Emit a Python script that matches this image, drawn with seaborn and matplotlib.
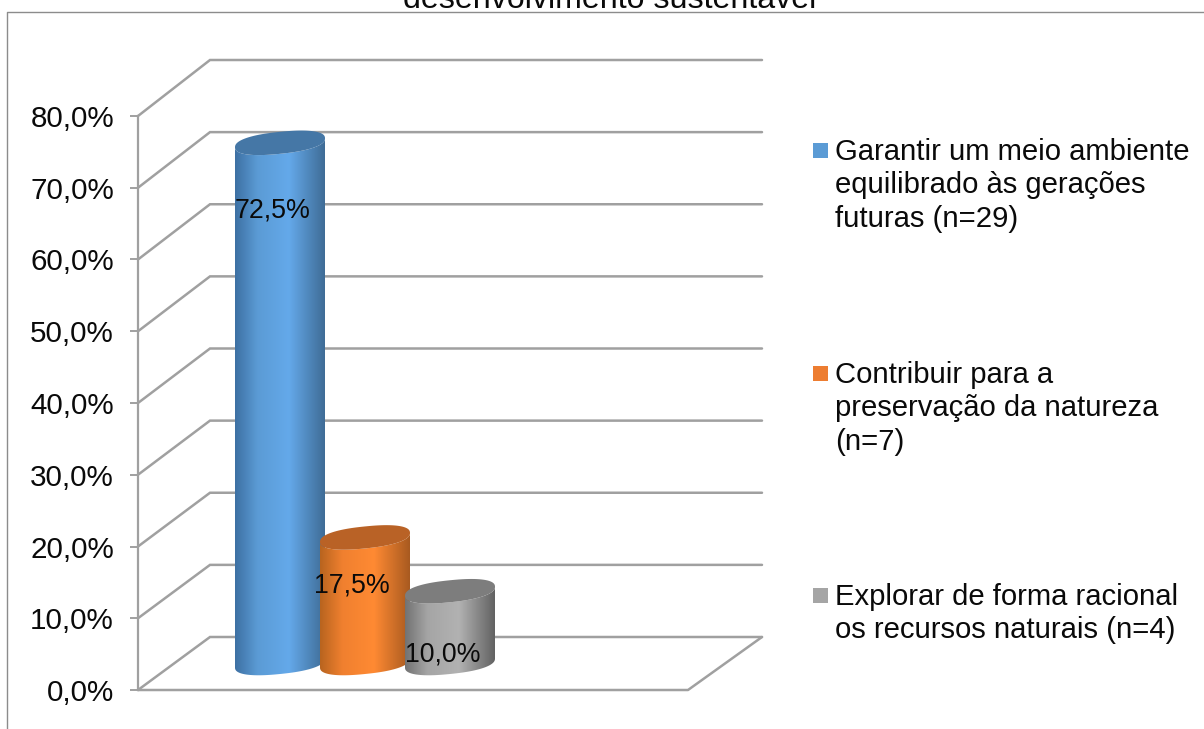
import numpy as np
import pandas as pd
import matplotlib
matplotlib.use("Agg")
import matplotlib.pyplot as plt
import seaborn as sns
from matplotlib.colors import LinearSegmentedColormap
from matplotlib.patches import Polygon, Rectangle

# dados do grafico
categorias = ["Garantir um meio ambiente\nequilibrado às gerações\nfuturas (n=29)",
              "Contribuir para a\npreservação da natureza\n(n=7)",
              "Explorar de forma racional\nos recursos naturais (n=4)"]
valores = [72.5, 17.5, 10.0]
rotulos = ["72,5%", "17,5%", "10,0%"]
y_ticks = [0, 10, 20, 30, 40, 50, 60, 70, 80]
y_labels = ["0,0%", "10,0%", "20,0%", "30,0%", "40,0%", "50,0%", "60,0%", "70,0%", "80,0%"]
titulo = "desenvolvimento sustentável"

# cores dos cilindros: borda, meio, claro, borda / tampa
gradientes = [["#3d70a3", "#5b9bd5", "#64a9ea", "#3f6c96"],
              ["#b8641f", "#f0802f", "#ff8a33", "#a85a20"],
              ["#727272", "#a5a5a5", "#b2b2b2", "#626262"]]
tampas = ["#4577a6", "#b96226", "#7d7d7d"]
legenda_cores = ["#5b9bd5", "#ed7d31", "#a5a5a5"]
cinza = "#a0a0a0"

W, H = 1204, 729
sns.set_theme(style="white")
plt.rcParams["font.family"] = ["Liberation Sans", "DejaVu Sans"]

fig = plt.figure(figsize=(W / 100, H / 100), dpi=100)
fig.patch.set_facecolor("white")

# fundo em pixels: moldura, paredes
back = fig.add_axes([0, 0, 1, 1], zorder=0)
back.set_xlim(0, W)
back.set_ylim(H, 0)
back.axis("off")

# eixo principal (plano da frente do grafico 3D)
ax = fig.add_axes([138 / W, 1 - 690 / H, 550 / W, 574 / H], zorder=1)
ax.patch.set_alpha(0)
df = pd.DataFrame({"cat": categorias, "val": valores})
sns.barplot(data=df, x="cat", y="val", hue="cat", palette=legenda_cores,
            width=90 / 85, legend=False, saturation=1, ax=ax)
ax.set_xlim(-106 / 85, 444 / 85)
ax.set_ylim(0, 80)
ax.set_xlabel("")
ax.set_ylabel("")
ax.set_xticks([])
ax.set_yticks(y_ticks)
ax.set_yticklabels(y_labels, fontsize=21.3, color="#0a0a0a")
ax.tick_params(axis="y", left=True, length=5.8, width=1.4, color=cinza, pad=11.5)
sns.despine(ax=ax, top=True, right=True, bottom=True)
ax.spines["left"].set_color(cinza)
ax.spines["left"].set_linewidth(1.6)

# frente em pixels: cilindros e textos
front = fig.add_axes([0, 0, 1, 1], zorder=2)
front.patch.set_alpha(0)
front.axis("off")

# profundidade do 3D em pixels
prof_x = 72
meio_x, meio_y = 36, -27


def to_px(x, y):
    dx, dy = ax.transData.transform((x, y))
    return dx, H - dy


back.plot([7, 7, W], [H, 12, 12], color="#8c8c8c", lw=1)
for v in y_ticks:
    x0, y0 = to_px(ax.get_xlim()[0], v)
    # a parede do fundo fica um pouco mais alta que o eixo da frente
    y_fundo = 637 - (690 - y0) * 577 / 574
    back.plot([x0, x0 + prof_x, 762], [y0, y_fundo, y_fundo], color=cinza, lw=1.8,
              solid_joinstyle="miter")
# chao
x0, y0 = to_px(ax.get_xlim()[0], 0)
x1, _ = to_px(ax.get_xlim()[1], 0)
back.plot([x0, x1, 762], [y0, y0, 637], color=cinza, lw=1.8)


def arco(t, cx, cy, a, b, inclina):
    # elipse um pouco quadrada e inclinada, como a tampa do cilindro
    c, s = np.cos(t), np.sin(t)
    ex = np.sign(c) * np.abs(c) ** 0.85
    ey = np.sign(s) * np.abs(s) ** 0.85
    return np.column_stack([cx + a * ex, cy + b * ey - inclina * ex])


theta = np.linspace(0, np.pi, 80)
for i, bar in enumerate(ax.patches):
    esq, _ = to_px(bar.get_x(), 0)
    dir_, base = to_px(bar.get_x() + bar.get_width(), 0)
    _, topo = to_px(bar.get_x(), bar.get_height())
    esq, dir_ = esq + meio_x, dir_ + meio_x
    base, topo = base + meio_y, topo + meio_y
    cx = (esq + dir_) / 2
    a = (dir_ - esq) / 2
    b = 11
    inclina = 4.5

    lado = np.vstack([arco(theta, cx, base, a, b, inclina),
                      arco(theta[::-1], cx, topo, a, b, inclina)])
    clip = Polygon(lado, closed=True, transform=front.transData, fc="none", ec="none")
    front.add_patch(clip)
    bar.set_visible(False)

    cmap = LinearSegmentedColormap.from_list(
        "cil", list(zip([0, 0.25, 0.6, 1], gradientes[i])))
    grad = np.linspace(0, 1, 256)[None, :]
    im = front.imshow(grad, extent=[esq, dir_, base + 20, topo - 20], cmap=cmap,
                      aspect="auto", zorder=2 + i)
    im.set_clip_path(clip)

    # tampa
    t2 = np.linspace(0, 2 * np.pi, 160)
    front.add_patch(Polygon(arco(t2, cx, topo, a, b, inclina), closed=True,
                            fc=tampas[i], ec="none", zorder=2 + i))

# rotulos, deslocados em relacao ao topo do cilindro
queda = [68, 48, 63]
desvio = [-7.5, -13.5, -7.5]
for i, bar in enumerate(ax.patches):
    x, y = to_px(bar.get_x() + bar.get_width() / 2, bar.get_height())
    front.text(x + meio_x + desvio[i], y + meio_y + queda[i], rotulos[i], fontsize=19.3,
               ha="center", va="center", color="#0a0a0a", zorder=10)

# legenda
leg_y = [150, 373, 595]
for cat, cor, y in zip(categorias, legenda_cores, leg_y):
    front.add_patch(Rectangle((813, y - 7), 15, 15, fc=cor, ec="none", zorder=10))
    front.text(835, y - 12, cat, fontsize=21.1, ha="left", va="top", color="#0a0a0a",
               linespacing=1.24, zorder=10)

front.text(610, 8, titulo, fontsize=23.1, ha="center", va="baseline", color="#0a0a0a",
           clip_on=False, zorder=10)

front.set_xlim(0, W)
front.set_ylim(H, 0)

fig.savefig("out.png", dpi=100)
